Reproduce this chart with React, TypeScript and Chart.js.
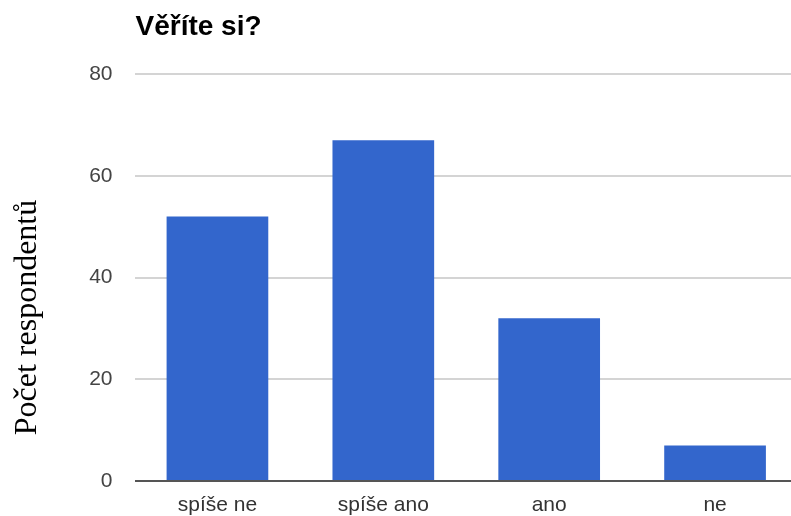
import React, { useEffect, useRef } from "react";
import { Chart, registerables } from "chart.js";

Chart.register(...registerables);

// Survey answers to "Věříte si?" and respondent counts
const categories = ["spíše ne", "spíše ano", "ano", "ne"];
const respondents = [52, 67, 32, 7];
const yTicks = [0, 20, 40, 60, 80];

const chartTitle = "Věříte si?";
const yAxisTitle = "Počet respondentů";

const sans = "'Liberation Sans', Arial, sans-serif";
const serif = "'Liberation Serif', 'Times New Roman', serif";

// Chart heading flush with the plot's left edge, plus the rotated axis caption
const textPlugin = {
  id: "captions",
  afterDraw(chart: any) {
    const { ctx, chartArea } = chart;
    ctx.save();
    ctx.font = `bold 28px ${sans}`;
    ctx.fillStyle = "#000";
    ctx.textAlign = "left";
    ctx.textBaseline = "alphabetic";
    ctx.fillText(chartTitle, chartArea.left + 1, 35);
    ctx.restore();

    ctx.save();
    ctx.translate(27.5, 317.5);
    ctx.rotate(-Math.PI / 2);
    ctx.font = `32px ${serif}`;
    ctx.fillStyle = "#000";
    ctx.textAlign = "center";
    ctx.textBaseline = "middle";
    ctx.fillText(yAxisTitle, 0, 0);
    ctx.restore();
  },
};

export default function App() {
  const canvasRef = useRef<HTMLCanvasElement | null>(null);

  useEffect(() => {
    if (!canvasRef.current) return;
    const chart = new Chart(canvasRef.current, {
      type: "bar",
      data: {
        labels: categories,
        datasets: [
          {
            data: respondents,
            backgroundColor: "#3366cc",
            borderWidth: 0,
            barPercentage: 0.613,
            categoryPercentage: 1,
          },
        ],
      },
      options: {
        responsive: false,
        animation: false,
        layout: { padding: { top: 74, left: 0, right: 0, bottom: 0 } },
        plugins: {
          legend: { display: false },
          tooltip: { enabled: false },
          title: { display: false },
        },
        scales: {
          x: {
            afterFit(scale: any) {
              scale.height = 35;
            },
            grid: { display: false, drawTicks: false },
            border: { display: false },
            ticks: {
              color: "#333",
              font: { family: sans, size: 21 },
              padding: 12,
              maxRotation: 0,
            },
          },
          y: {
            min: yTicks[0],
            max: yTicks[yTicks.length - 1],
            afterFit(scale: any) {
              scale.width = 134.5;
            },
            afterBuildTicks(scale: any) {
              scale.ticks = yTicks.map((v) => ({ value: v }));
            },
            border: { display: false },
            grid: {
              drawTicks: false,
              color: (c: any) => (c.tick && c.tick.value === 0 ? "#555" : "#d4d4d4"),
              lineWidth: 2,
            },
            ticks: {
              color: "#444",
              font: { family: sans, size: 21 },
              padding: 22,
            },
          },
        },
      },
      plugins: [textPlugin],
    });
    return () => chart.destroy();
  }, []);

  return (
    <div
      style={{
        position: "absolute",
        left: 0,
        top: 0,
        width: 791,
        height: 516,
        overflow: "hidden",
        background: "#fff",
      }}
    >
      <canvas ref={canvasRef} width={798} height={516} style={{ display: "block" }} />
    </div>
  );
}
